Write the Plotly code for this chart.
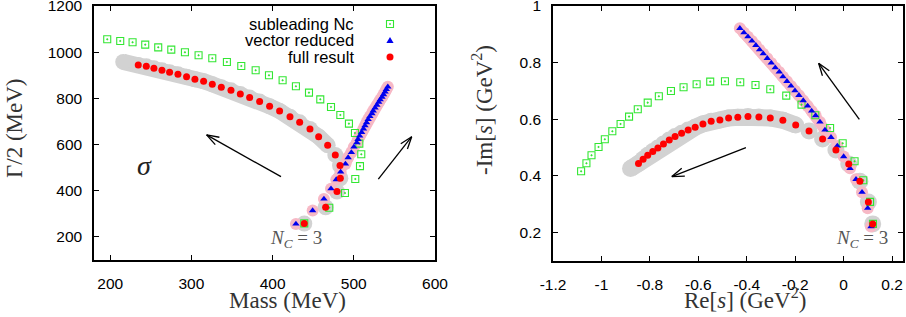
import math
import plotly.graph_objects as go

# ---------------- data ----------------
# Left panel: pole position, Mass (MeV) vs Gamma/2 (MeV)
sub_mass = [196.3, 212.3, 227.5, 243.1, 259.1, 275.2, 292.0, 308.8, 325.7, 343.7, 361.4, 379.1, 395.5, 412.3,
            428.7, 444.8, 458.7, 471.9, 483.4, 494.0, 501.4, 506.8, 509.2, 507.6, 501.8, 489.1, 469.8, 439.0]
sub_width = [1055.7, 1048.5, 1042.7, 1032.6, 1021.0, 1011.0, 999.4, 986.4, 973.4, 957.6, 940.3, 921.5, 899.9, 878.2,
             852.2, 824.8, 795.8, 762.8, 728.2, 690.6, 650.2, 604.0, 557.8, 506.7, 450.6, 390.0, 326.5, 258.7]

vec_mass = [541.9, 540.0, 538.5, 536.6, 534.7, 532.5, 530.7, 528.4, 526.2, 523.9, 522.3, 519.8, 517.6, 515.7, 513.8,
            511.9, 509.6, 507.2, 505.2, 503.7, 500.1, 497.0, 493.0, 489.7, 483.8, 478.4, 471.9, 463.2, 449.3, 428.7]
vec_width = [849.9, 838.6, 827.9, 816.5, 805.1, 794.1, 783.4, 771.2, 758.7, 746.3, 734.0, 721.6, 708.8, 695.4, 681.9,
             668.3, 652.9, 637.3, 622.4, 607.9, 589.9, 566.0, 543.4, 515.8, 481.4, 448.1, 409.1, 364.5, 314.0, 256.3]

full_mass = [234.5, 244.4, 253.8, 263.7, 273.1, 283.4, 294.0, 304.3, 315.0, 325.7, 336.8, 348.7, 360.2, 371.7,
             384.0, 396.3, 408.6, 421.4, 433.3, 446.0, 456.7, 467.8, 477.2, 483.0, 483.4, 479.3, 465.3, 439.0]
full_width = [944.6, 938.8, 930.2, 921.5, 912.8, 904.2, 894.1, 882.5, 873.9, 860.9, 847.9, 834.9, 819.0, 803.2,
              785.9, 765.7, 745.5, 720.9, 696.4, 667.5, 634.3, 596.8, 555.0, 508.8, 454.0, 396.3, 328.4, 257.7]
full_band_start_mass = [216.0]
full_band_start_width = [958.0]

# Right panel: Re[s] vs -Im[s] (GeV^2)
sub_re = [-1.084, -1.062, -1.041, -1.012, -0.986, -0.955, -0.921, -0.886, -0.850, -0.809, -0.763, -0.713, -0.661, -0.607,
          -0.551, -0.490, -0.427, -0.364, -0.303, -0.237, -0.174, -0.117, -0.056, -0.004, 0.045, 0.081, 0.109, 0.121]
sub_im = [0.4156, 0.4439, 0.4722, 0.5016, 0.5287, 0.5570, 0.5829, 0.6088, 0.6348, 0.6583, 0.6807, 0.6996, 0.7125, 0.7231,
          0.7325, 0.7337, 0.7302, 0.7208, 0.7054, 0.6831, 0.6512, 0.6135, 0.5688, 0.5146, 0.4510, 0.3838, 0.3072, 0.2295]

vec_re = [-0.4284, -0.4118, -0.3953, -0.3788, -0.3623, -0.3471, -0.3320, -0.3154, -0.2989, -0.2824, -0.2658, -0.2507,
          -0.2342, -0.2176, -0.2011, -0.1846, -0.1667, -0.1488, -0.1322, -0.1157, -0.0978, -0.0771, -0.0523, -0.0262,
          0.0, 0.0262, 0.0510, 0.0758, 0.0992, 0.1129]
vec_im = [0.9211, 0.9057, 0.8916, 0.8763, 0.8610, 0.8457, 0.8315, 0.8150, 0.7985, 0.7820, 0.7667, 0.7502, 0.7337, 0.7172,
          0.7007, 0.6842, 0.6654, 0.6465, 0.6289, 0.6124, 0.5900, 0.5617, 0.5358, 0.5052, 0.4675, 0.4262, 0.3873, 0.3414,
          0.2848, 0.2200]

full_re = [-0.847, -0.828, -0.809, -0.788, -0.767, -0.744, -0.720, -0.696, -0.669, -0.642, -0.613, -0.581, -0.547, -0.511,
           -0.475, -0.437, -0.395, -0.350, -0.303, -0.251, -0.198, -0.143, -0.087, -0.032, 0.021, 0.067, 0.102, 0.120]
full_im = [0.4427, 0.4580, 0.4722, 0.4851, 0.4981, 0.5122, 0.5264, 0.5381, 0.5499, 0.5617, 0.5711, 0.5829, 0.5923, 0.5971,
           0.6041, 0.6065, 0.6088, 0.6077, 0.6041, 0.5959, 0.5794, 0.5582, 0.5299, 0.4910, 0.4415, 0.3803, 0.3072, 0.2295]
full_band_start_re = [-0.88]
full_band_start_im = [0.425]

series_names = ["subleading Nc", "vector reduced", "full result"]

left_xticks = [200, 300, 400, 500, 600]
left_yticks = [200, 400, 600, 800, 1000, 1200]
right_xticks = [-1.2, -1.0, -0.8, -0.6, -0.4, -0.2, 0.0, 0.2]
right_xticklabels = ["-1.2", "-1", "-0.8", "-0.6", "-0.4", "-0.2", "0", "0.2"]
right_yticks = [0.2, 0.4, 0.6, 0.8, 1.0]
right_yticklabels = ["0.2", "0.4", "0.6", "0.8", "1"]

# ---------------- layout geometry ----------------
W, H = 906, 317
L_X0, L_X1, L_Y0, L_Y1 = 94, 435, 6, 260
R_X0, R_X1, R_Y0, R_Y1 = 553, 903, 6, 260.5
L_XR, L_YR = [180, 600], [100, 1200]
R_XR, R_YR = [-1.2, 0.245], [0.1, 1.0]

GREEN = "#33e633"
BLUE = "#0000ee"
RED = "#ff0000"
GRAY = "#d2d2d2"
PINK = "#f7b9c6"

fig = go.Figure()


def add_band(x, y, xa, ya, color, lw, ms, ncont):
    fig.add_trace(go.Scatter(x=x[:ncont], y=y[:ncont], mode="lines", xaxis=xa, yaxis=ya,
                             line=dict(color=color, width=lw), showlegend=False, hoverinfo="skip"))
    fig.add_trace(go.Scatter(x=x, y=y, mode="markers", xaxis=xa, yaxis=ya,
                             marker=dict(color=color, size=ms, line=dict(width=0)),
                             showlegend=False, hoverinfo="skip"))


def add_points(xl, yl, xr, yr, sym, color, size, lw, name):
    for xa, ya, xs, ys in (("x", "y", xl, yl), ("x2", "y2", xr, yr)):
        fig.add_trace(go.Scatter(x=xs, y=ys, mode="markers", xaxis=xa, yaxis=ya, name=name,
                                 marker=dict(symbol=sym, color=color, size=size,
                                             line=dict(color=color, width=lw)),
                                 showlegend=False))


# error bands
add_band(full_band_start_mass + full_mass, full_band_start_width + full_width, "x", "y", GRAY, 16, 16, 23)
add_band(full_band_start_re + full_re, full_band_start_im + full_im, "x2", "y2", GRAY, 17, 17, 22)
add_band(vec_mass, vec_width, "x", "y", PINK, 11, 12, 24)
add_band(vec_re, vec_im, "x2", "y2", PINK, 11, 12, 22)

# points
add_points(sub_mass, sub_width, sub_re, sub_im, "square-open-dot", GREEN, 7, 1.1, series_names[0])
add_points(vec_mass, vec_width, vec_re, vec_im, "triangle-up", BLUE, 6.5, 0, series_names[1])
add_points(full_mass, full_width, full_re, full_im, "circle", RED, 7, 0, series_names[2])

tickfont = dict(family="Liberation Sans, Arial, sans-serif", size=15.5, color="black")
axis_common = dict(showline=True, linecolor="black", linewidth=1.5, mirror="ticks", ticks="inside",
                   ticklen=5, tickwidth=1, tickcolor="black", showgrid=False, zeroline=False,
                   tickfont=tickfont, fixedrange=True, automargin=False, ticklabeloverflow="allow")

fig.update_layout(
    width=W, height=H, margin=dict(l=0, r=0, t=0, b=0, pad=0), autosize=False,
    paper_bgcolor="white", plot_bgcolor="white", showlegend=False,
    xaxis=dict(domain=[L_X0 / W, L_X1 / W], range=L_XR, tickvals=left_xticks, anchor="y",
               ticklabelstandoff=9, **axis_common),
    yaxis=dict(domain=[1 - L_Y1 / H, 1 - L_Y0 / H], range=L_YR, tickvals=left_yticks, anchor="x",
               ticklabelstandoff=7, **axis_common),
    xaxis2=dict(domain=[R_X0 / W, R_X1 / W], range=R_XR, tickvals=right_xticks, ticktext=right_xticklabels,
                anchor="y2", ticklabelstandoff=9, **axis_common),
    yaxis2=dict(domain=[1 - R_Y1 / H, 1 - R_Y0 / H], range=R_YR, tickvals=right_yticks,
                ticktext=right_yticklabels, anchor="x2", ticklabelstandoff=7, **axis_common),
)

serif = "Liberation Serif, Times New Roman, serif"
title_font = dict(family=serif, size=23, color="#333333")


def paper_ann(text, xpx, ypx, angle=0, font=title_font, xanchor="center"):
    fig.add_annotation(text=text, x=xpx / W, y=1 - ypx / H, xref="paper", yref="paper",
                       showarrow=False, textangle=angle, font=font, xanchor=xanchor, yanchor="middle")


paper_ann("Mass (MeV)", 287, 300)
paper_ann("Γ/2 (MeV)", 15, 128, angle=-90)
paper_ann("Re[<i>s</i>] (GeV<sup>2</sup>)", 745, 298)
paper_ann("-Im[<i>s</i>] (GeV<sup>2</sup>)", 482, 110, angle=-90)

# in-plot texts
fig.add_annotation(text="<i>σ</i>", x=242.7, y=510, xref="x", yref="y", showarrow=False,
                   font=dict(family=serif, size=28, color="#222222"))
nc_font = dict(family=serif, size=19, color="#555555")
fig.add_annotation(text="<i>N</i><sub><i>C</i></sub> = 3", x=428.5, y=190, xref="x", yref="y",
                   showarrow=False, font=nc_font)
fig.add_annotation(text="<i>N</i><sub><i>C</i></sub> = 3", x=0.0756, y=0.176, xref="x2", yref="y2",
                   showarrow=False, font=nc_font)

# legend (text left of the symbols, as in the original)
leg_font = dict(family="Liberation Sans, Arial, sans-serif", size=16.5, color="black")
leg_y = [24, 40.5, 57]
for name, ypx in zip(series_names, leg_y):
    paper_ann(name, 356, ypx, font=leg_font, xanchor="right")
kx = 390
fig.add_shape(type="rect", xref="paper", yref="paper", x0=(kx - 3.5) / W, x1=(kx + 3.5) / W,
              y0=1 - (leg_y[0] + 3.5) / H, y1=1 - (leg_y[0] - 3.5) / H, line=dict(color=GREEN, width=1.1))
fig.add_shape(type="rect", xref="paper", yref="paper", x0=(kx - 0.5) / W, x1=(kx + 0.5) / W,
              y0=1 - (leg_y[0] + 0.5) / H, y1=1 - (leg_y[0] - 0.5) / H, line=dict(color=GREEN, width=0.6),
              fillcolor=GREEN)
ty = leg_y[1]
fig.add_shape(type="path", xref="paper", yref="paper", fillcolor=BLUE, line=dict(width=0),
              path="M {:.5f},{:.5f} L {:.5f},{:.5f} L {:.5f},{:.5f} Z".format(
                  (kx - 3.6) / W, 1 - (ty + 2.6) / H, (kx + 3.6) / W, 1 - (ty + 2.6) / H, kx / W, 1 - (ty - 3.6) / H))
fig.add_shape(type="circle", xref="paper", yref="paper", fillcolor=RED, line=dict(width=0),
              x0=(kx - 3.5) / W, x1=(kx + 3.5) / W, y0=1 - (leg_y[2] + 3.5) / H, y1=1 - (leg_y[2] - 3.5) / H)

# arrows (open V heads like gnuplot)
ppx_l = (L_X1 - L_X0) / (L_XR[1] - L_XR[0])
ppy_l = (L_Y1 - L_Y0) / (L_YR[1] - L_YR[0])
ppx_r = (R_X1 - R_X0) / (R_XR[1] - R_XR[0])
ppy_r = (R_Y1 - R_Y0) / (R_YR[1] - R_YR[0])


def arrow(x0, y0, x1, y1, xref, yref, ppx, ppy, head=13, ang=19):
    line = dict(color="black", width=1.3)
    fig.add_shape(type="line", x0=x0, y0=y0, x1=x1, y1=y1, xref=xref, yref=yref, line=line)
    dx, dy = (x1 - x0) * ppx, (y1 - y0) * ppy
    L = math.hypot(dx, dy)
    ux, uy = -dx / L, -dy / L
    for s in (1, -1):
        a = math.radians(ang) * s
        rx = ux * math.cos(a) - uy * math.sin(a)
        ry = ux * math.sin(a) + uy * math.cos(a)
        fig.add_shape(type="line", x0=x1, y0=y1, x1=x1 + head * rx / ppx, y1=y1 + head * ry / ppy,
                      xref=xref, yref=yref, line=line)


arrow(410.3, 461, 318.7, 641.6, "x", "y", ppx_l, ppy_l)
arrow(530.2, 450, 571.3, 634, "x", "y", ppx_l, ppy_l)
arrow(0.0647, 0.5994, -0.1033, 0.7973, "x2", "y2", ppx_r, ppy_r)
arrow(-0.4036, 0.4993, -0.7094, 0.3968, "x2", "y2", ppx_r, ppy_r)

# the page body has a default 8px margin; remove it so the figure fills the window like the original
fig.write_html("out.html", config={"displayModeBar": False},
               post_script="document.body.style.margin='0px';document.body.style.overflow='hidden';")
